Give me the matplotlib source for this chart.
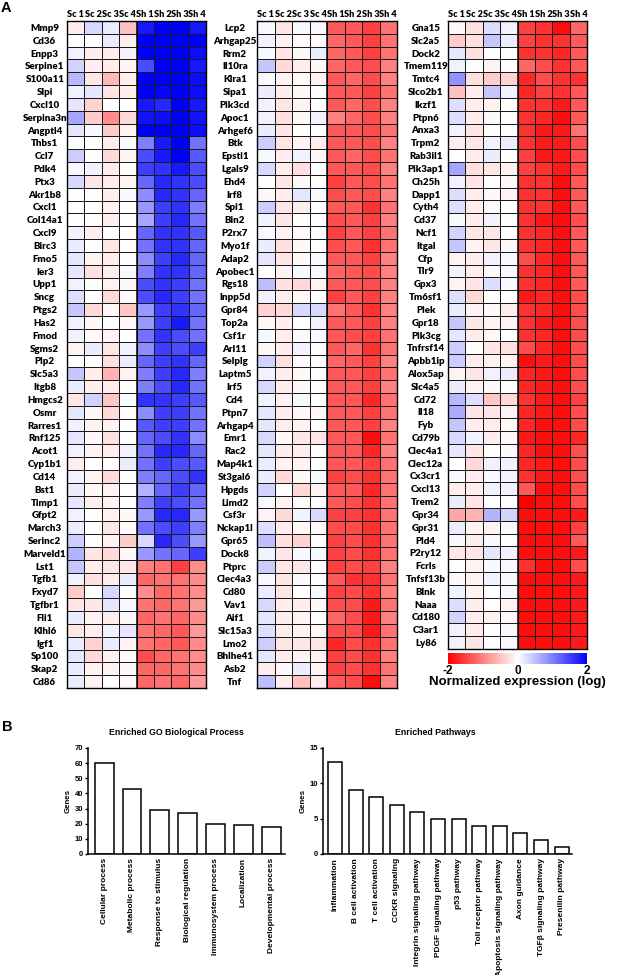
import matplotlib
matplotlib.use("Agg")
import matplotlib.pyplot as plt
import numpy as np
from matplotlib.colors import LinearSegmentedColormap

SAMPLES = ["Sc 1", "Sc 2", "Sc 3", "Sc 4", "Sh 1", "Sh 2", "Sh 3", "Sh 4"]

GENES_A = ["Mmp9", "Cd36", "Enpp3", "Serpine1", "S100a11", "Slpi", "Cxcl10", "Serpina3n",
           "Angptl4", "Thbs1", "Ccl7", "Pdk4", "Ptx3", "Akr1b8", "Cxcl1", "Col14a1", "Cxcl9",
           "Birc3", "Fmo5", "Ier3", "Upp1", "Sncg", "Ptgs2", "Has2", "Fmod", "Sgms2", "Plp2",
           "Slc5a3", "Itgb8", "Hmgcs2", "Osmr", "Rarres1", "Rnf125", "Acot1", "Cyp1b1", "Cd14",
           "Bst1", "Timp1", "Gfpt2", "March3", "Serinc2", "Marveld1", "Lst1", "Tgfb1", "Fxyd7",
           "Tgfbr1", "Fli1", "Klhl6", "Igf1", "Sp100", "Skap2", "Cd86"]
EXPR_A = [
    [-0.15, 0.3, 0.15, -0.5, 1.8, 2.0, 2.0, 1.8],
    [0.0, 0.0, 0.15, -0.15, 2.0, 2.0, 2.0, 2.0],
    [0.1, -0.15, -0.15, 0.1, 2.0, 2.0, 2.0, 1.9],
    [0.35, -0.15, -0.15, -0.1, 1.4, 2.0, 2.0, 1.8],
    [0.55, -0.2, -0.55, -0.15, 2.0, 2.0, 2.0, 1.9],
    [0.1, 0.2, -0.2, -0.15, 2.0, 1.95, 2.0, 1.9],
    [0.2, -0.35, 0.0, 0.0, 1.8, 1.7, 2.0, 1.8],
    [0.7, -0.4, -0.9, -0.3, 1.85, 1.9, 2.0, 1.85],
    [0.2, 0.05, -0.4, -0.1, 2.0, 2.0, 2.0, 1.9],
    [0.0, 0.0, -0.15, 0.05, 1.0, 1.8, 2.0, 1.1],
    [0.4, 0.0, -0.3, -0.1, 1.4, 1.8, 2.0, 1.3],
    [0.05, 0.1, -0.15, 0.0, 1.5, 1.6, 1.8, 1.4],
    [0.3, -0.2, -0.15, -0.1, 1.2, 1.7, 1.6, 1.4],
    [0.0, 0.0, -0.15, 0.05, 0.9, 1.7, 1.6, 1.2],
    [0.0, 0.0, -0.1, 0.0, 0.8, 1.5, 1.6, 1.0],
    [0.0, 0.0, -0.15, 0.0, 0.7, 1.5, 1.7, 1.1],
    [0.1, -0.15, 0.0, 0.0, 1.2, 1.6, 1.6, 1.3],
    [0.15, 0.0, -0.2, 0.0, 1.1, 1.6, 1.6, 1.2],
    [0.2, -0.1, -0.15, 0.0, 0.9, 1.5, 1.7, 1.2],
    [0.2, -0.25, -0.15, 0.05, 1.0, 1.6, 1.6, 1.2],
    [0.1, 0.0, -0.1, -0.05, 1.4, 1.6, 1.5, 1.1],
    [0.25, 0.0, -0.3, -0.05, 1.4, 1.7, 1.5, 1.1],
    [0.45, -0.3, -0.05, -0.45, 0.8, 1.5, 1.6, 1.2],
    [0.1, -0.05, 0.0, -0.05, 0.8, 1.5, 1.8, 1.1],
    [0.1, -0.05, -0.1, 0.0, 1.1, 1.6, 1.4, 1.1],
    [-0.1, 0.15, -0.2, 0.1, 0.9, 1.5, 1.4, 1.5],
    [0.0, 0.0, -0.25, 0.15, 1.2, 1.5, 1.6, 1.2],
    [0.45, -0.15, -0.6, -0.1, 1.0, 1.5, 1.7, 1.0],
    [0.15, -0.15, -0.15, 0.0, 1.0, 1.4, 1.7, 1.1],
    [-0.2, 0.35, -0.45, 0.05, 1.6, 1.6, 1.5, 1.3],
    [0.2, -0.05, -0.3, 0.0, 0.9, 1.5, 1.5, 1.1],
    [0.1, -0.1, -0.1, 0.0, 1.3, 1.5, 1.5, 1.1],
    [0.2, -0.05, -0.25, 0.0, 1.2, 1.4, 1.6, 0.9],
    [0.1, -0.1, -0.15, 0.1, 1.1, 1.7, 1.7, 1.2],
    [-0.15, 0.0, 0.0, 0.15, 1.1, 1.5, 1.4, 1.3],
    [0.1, -0.1, -0.3, 0.0, 1.0, 1.2, 1.4, 1.6],
    [0.15, -0.05, -0.1, 0.0, 0.6, 1.2, 1.5, 1.2],
    [0.2, -0.15, -0.1, 0.0, 1.0, 1.5, 1.4, 1.1],
    [0.1, 0.0, -0.1, -0.05, 0.8, 1.7, 1.7, 0.8],
    [0.15, 0.0, -0.2, -0.05, 1.1, 1.4, 1.5, 1.0],
    [0.4, 0.0, -0.1, -0.4, 0.3, 1.7, 1.4, 0.8],
    [0.6, -0.2, -0.3, -0.05, 0.8, 1.1, 1.2, 1.5],
    [0.45, -0.15, -0.2, -0.2, -1.0, -1.1, -1.5, -0.9],
    [0.1, -0.25, -0.15, 0.15, -1.2, -1.1, -1.1, -0.9],
    [-0.4, 0.0, 0.3, 0.0, -0.9, -1.2, -1.1, -0.9],
    [-0.2, -0.2, 0.2, 0.05, -1.1, -1.2, -1.1, -0.8],
    [0.15, -0.1, -0.15, -0.05, -1.2, -1.1, -1.2, -0.9],
    [-0.2, -0.15, 0.1, 0.2, -1.1, -1.2, -1.3, -0.8],
    [0.15, -0.35, 0.15, -0.1, -1.1, -1.2, -1.3, -0.9],
    [0.2, -0.3, -0.1, -0.05, -1.4, -1.2, -1.1, -0.9],
    [0.15, -0.1, -0.1, -0.05, -1.2, -1.2, -1.1, -0.9],
    [0.15, -0.1, 0.0, -0.05, -1.2, -1.1, -1.2, -0.8],
]

GENES_B = ["Lcp2", "Arhgap25", "Rrm2", "Il10ra", "Klra1", "Sipa1", "Pik3cd", "Apoc1", "Arhgef6",
           "Btk", "Epsti1", "Lgals9", "Ehd4", "Irf8", "Spi1", "Bin2", "P2rx7", "Myo1f", "Adap2",
           "Apobec1", "Rgs18", "Inpp5d", "Gpr84", "Top2a", "Csf1r", "Arl11", "Selplg", "Laptm5",
           "Irf5", "Cd4", "Ptpn7", "Arhgap4", "Emr1", "Rac2", "Map4k1", "St3gal6", "Hpgds",
           "Limd2", "Csf3r", "Nckap1l", "Gpr65", "Dock8", "Ptprc", "Clec4a3", "Cd80", "Vav1",
           "Aif1", "Slc15a3", "Lmo2", "Bhlhe41", "Asb2", "Tnf"]
EXPR_B = [
    [0.05, -0.2, 0.05, 0.05, -1.3, -1.3, -1.5, -1.1],
    [0.1, -0.1, -0.05, -0.05, -1.2, -1.3, -1.5, -1.1],
    [0.05, -0.2, -0.05, 0.15, -1.2, -1.3, -1.5, -1.1],
    [0.45, -0.3, -0.15, -0.05, -1.2, -1.3, -1.4, -1.0],
    [0.05, -0.1, -0.05, -0.1, -1.3, -1.2, -1.4, -1.0],
    [0.15, -0.15, -0.05, 0.0, -1.3, -1.3, -1.5, -1.1],
    [0.1, -0.2, -0.1, 0.0, -1.3, -1.2, -1.4, -1.0],
    [0.1, -0.25, -0.05, 0.1, -1.0, -1.2, -1.4, -1.0],
    [0.15, -0.2, 0.0, 0.0, -1.3, -1.3, -1.4, -1.1],
    [0.4, -0.2, -0.1, -0.15, -1.3, -1.3, -1.4, -1.0],
    [0.05, -0.15, 0.1, -0.05, -1.3, -1.2, -1.4, -1.1],
    [0.3, -0.15, -0.25, 0.0, -1.3, -1.3, -1.4, -1.0],
    [0.0, -0.2, -0.05, 0.0, -1.5, -1.3, -1.4, -1.1],
    [-0.05, -0.15, 0.2, 0.05, -1.4, -1.3, -1.4, -1.0],
    [0.4, -0.2, -0.15, 0.0, -1.3, -1.3, -1.6, -1.1],
    [0.1, -0.2, 0.0, 0.0, -1.4, -1.3, -1.5, -1.0],
    [0.05, -0.1, -0.05, 0.0, -1.5, -1.3, -1.5, -1.1],
    [0.15, -0.25, -0.05, 0.0, -1.4, -1.3, -1.6, -1.1],
    [0.2, -0.2, -0.05, 0.05, -1.3, -1.3, -1.5, -1.0],
    [0.0, -0.1, 0.05, 0.05, -1.2, -1.3, -1.4, -1.0],
    [0.5, -0.25, -0.3, -0.1, -1.3, -1.3, -1.4, -1.0],
    [0.1, -0.15, -0.05, 0.0, -1.5, -1.3, -1.5, -1.0],
    [-0.35, -0.3, 0.3, 0.3, -1.1, -1.3, -1.6, -1.0],
    [-0.05, -0.15, 0.0, 0.1, -1.3, -1.3, -1.5, -1.0],
    [0.05, -0.15, -0.05, 0.05, -1.3, -1.4, -1.5, -1.1],
    [-0.05, -0.15, 0.1, 0.0, -1.3, -1.2, -1.6, -1.1],
    [0.35, -0.25, -0.05, 0.0, -1.2, -1.3, -1.5, -1.0],
    [0.1, -0.15, -0.05, 0.0, -1.3, -1.3, -1.5, -1.1],
    [0.3, -0.15, -0.05, 0.0, -1.3, -1.3, -1.5, -1.0],
    [0.1, -0.1, 0.05, 0.0, -1.3, -1.3, -1.7, -1.1],
    [0.2, -0.15, -0.05, -0.05, -1.3, -1.3, -1.5, -1.1],
    [0.2, -0.15, -0.1, 0.0, -1.3, -1.3, -1.5, -1.0],
    [0.3, -0.05, -0.2, -0.2, -1.3, -1.3, -1.9, -1.1],
    [0.2, -0.15, -0.15, 0.0, -1.3, -1.3, -1.7, -1.0],
    [0.15, -0.1, -0.1, 0.0, -1.3, -1.3, -1.5, -1.1],
    [0.15, -0.3, -0.05, 0.05, -1.5, -1.4, -1.6, -1.1],
    [0.35, 0.0, -0.3, -0.1, -1.3, -1.3, -1.7, -1.1],
    [0.05, -0.1, -0.05, 0.0, -1.3, -1.4, -1.6, -1.1],
    [-0.1, -0.3, 0.1, 0.3, -1.5, -1.5, -1.6, -1.1],
    [0.25, -0.15, -0.05, -0.05, -1.4, -1.4, -1.6, -1.1],
    [0.5, -0.25, -0.35, 0.0, -1.5, -1.4, -1.6, -1.1],
    [0.1, -0.2, 0.05, 0.05, -1.5, -1.4, -1.6, -1.1],
    [0.4, -0.2, -0.2, 0.0, -1.5, -1.4, -1.5, -1.0],
    [0.05, -0.2, 0.05, 0.0, -1.3, -1.6, -1.6, -1.1],
    [0.15, -0.2, 0.0, 0.05, -1.5, -1.4, -1.6, -1.0],
    [0.3, -0.15, -0.15, -0.05, -1.4, -1.4, -1.8, -1.1],
    [0.2, -0.15, -0.1, 0.0, -1.2, -1.4, -1.8, -1.0],
    [0.25, -0.15, -0.1, -0.05, -1.4, -1.4, -1.8, -1.1],
    [0.4, -0.2, -0.2, -0.2, -1.7, -1.4, -1.6, -1.1],
    [0.2, -0.15, -0.1, -0.1, -1.5, -1.4, -1.6, -1.0],
    [-0.15, -0.05, 0.15, -0.1, -1.5, -1.4, -1.6, -1.1],
    [0.5, -0.15, -0.5, -0.15, -1.3, -1.4, -1.9, -1.0],
]

GENES_C = ["Gna15", "Slc2a5", "Dock2", "Tmem119", "Tmtc4", "Slco2b1", "Ikzf1", "Ptpn6", "Anxa3",
           "Trpm2", "Rab3il1", "Pik3ap1", "Ch25h", "Dapp1", "Cyth4", "Cd37", "Ncf1", "Itgal",
           "Cfp", "Tlr9", "Gpx3", "Tm6sf1", "Plek", "Gpr18", "Pik3cg", "Tnfrsf14", "Apbb1ip",
           "Alox5ap", "Slc4a5", "Cd72", "Il18", "Fyb", "Cd79b", "Clec4a1", "Clec12a", "Cx3cr1",
           "Cxcl13", "Trem2", "Gpr34", "Gpr31", "Pld4", "P2ry12", "Fcrls", "Tnfsf13b", "Blnk",
           "Naaa", "Cd180", "C3ar1", "Ly86"]
EXPR_C = [
    [-0.05, -0.25, 0.25, 0.1, -1.5, -1.6, -1.9, -1.2],
    [-0.4, -0.25, 0.45, 0.15, -1.5, -1.6, -1.6, -1.3],
    [0.2, -0.25, 0.0, 0.0, -1.6, -1.6, -1.7, -1.3],
    [0.1, 0.0, -0.1, 0.0, -1.2, -1.4, -1.6, -1.3],
    [0.85, -0.25, -0.4, -0.35, -1.7, -1.4, -1.6, -1.6],
    [-0.5, -0.15, 0.45, 0.1, -1.7, -1.5, -1.6, -1.3],
    [0.25, -0.15, -0.1, 0.0, -1.6, -1.6, -1.8, -1.3],
    [0.25, -0.15, -0.05, 0.0, -1.6, -1.7, -1.9, -1.3],
    [0.1, -0.2, 0.0, 0.0, -1.6, -1.8, -1.8, -1.1],
    [-0.15, -0.2, 0.1, 0.15, -1.6, -1.8, -1.8, -1.4],
    [0.0, -0.15, 0.15, 0.0, -1.5, -1.8, -1.8, -1.4],
    [0.7, -0.25, -0.2, -0.1, -1.5, -1.6, -1.8, -1.4],
    [0.1, -0.2, 0.0, -0.05, -1.6, -1.6, -1.9, -1.3],
    [0.25, -0.15, -0.05, -0.1, -1.6, -1.6, -1.9, -1.3],
    [0.25, -0.15, -0.05, 0.0, -1.6, -1.6, -1.9, -1.3],
    [0.05, -0.15, 0.1, 0.0, -1.6, -1.8, -1.9, -1.4],
    [0.35, -0.2, -0.2, 0.0, -1.6, -1.7, -1.9, -1.3],
    [0.45, -0.1, -0.2, -0.05, -1.6, -1.7, -1.9, -1.3],
    [-0.1, -0.15, 0.1, 0.05, -1.4, -1.7, -1.9, -1.3],
    [0.1, -0.15, -0.05, 0.05, -1.6, -1.7, -1.9, -1.3],
    [-0.1, -0.2, 0.25, 0.05, -1.6, -1.7, -1.9, -1.3],
    [0.25, -0.3, 0.0, 0.0, -1.8, -1.7, -1.9, -1.4],
    [0.15, -0.1, -0.05, -0.15, -1.6, -1.7, -1.9, -1.4],
    [0.45, -0.2, -0.1, -0.1, -1.6, -1.8, -1.9, -1.4],
    [0.2, -0.15, -0.05, 0.0, -1.6, -1.7, -1.9, -1.4],
    [0.4, 0.0, -0.2, -0.25, -1.4, -1.7, -1.9, -1.4],
    [0.4, -0.15, -0.1, -0.1, -1.9, -1.8, -1.9, -1.4],
    [-0.1, -0.2, 0.1, 0.15, -1.7, -1.8, -1.9, -1.4],
    [0.15, -0.1, -0.05, 0.0, -1.7, -1.8, -1.9, -1.4],
    [0.55, 0.25, -0.45, -0.3, -1.6, -1.8, -1.9, -1.5],
    [0.65, -0.2, -0.2, -0.1, -1.7, -1.8, -1.9, -1.4],
    [0.45, -0.15, -0.15, -0.05, -1.7, -1.9, -1.9, -1.4],
    [0.3, 0.1, -0.15, -0.05, -1.8, -1.9, -1.9, -1.7],
    [0.2, -0.2, 0.0, -0.05, -1.7, -1.9, -1.9, -1.4],
    [0.0, -0.3, 0.1, 0.1, -1.7, -1.8, -1.9, -1.4],
    [0.05, -0.15, 0.05, 0.1, -1.6, -1.8, -1.9, -1.4],
    [-0.15, -0.15, 0.1, 0.1, -1.3, -1.9, -1.9, -1.4],
    [0.15, -0.2, 0.0, 0.0, -2.0, -1.9, -1.9, -1.4],
    [-0.7, -0.6, 0.6, 0.35, -1.9, -1.9, -1.9, -1.8],
    [0.15, -0.1, -0.1, 0.05, -1.9, -1.9, -1.9, -1.5],
    [0.05, -0.15, 0.05, 0.0, -1.9, -1.9, -1.9, -1.3],
    [-0.2, -0.2, 0.2, 0.1, -1.9, -1.9, -1.9, -1.8],
    [0.0, -0.1, 0.05, 0.05, -1.6, -1.9, -1.9, -1.4],
    [-0.05, -0.1, 0.1, 0.05, -1.9, -1.9, -1.9, -1.8],
    [0.1, -0.1, 0.0, 0.05, -1.9, -1.9, -1.9, -1.8],
    [0.25, -0.15, 0.0, -0.1, -1.9, -1.9, -1.9, -1.8],
    [0.35, -0.15, -0.1, -0.05, -1.9, -1.9, -1.9, -1.8],
    [0.1, -0.15, 0.0, 0.05, -1.9, -1.9, -1.9, -1.8],
    [0.1, -0.2, 0.0, 0.05, -1.9, -1.9, -1.9, -1.8],
]

GO_TERMS = ["Cellular process", "Metabolic process", "Response to stimulus",
            "Biological regulation", "Immunosystem process", "Localization",
            "Developmental process"]
GO_GENES = [60, 43, 29, 27, 20, 19, 18]

PATHWAYS = ["Inflammation", "B cell activation", "T cell activation", "CCKR signaling",
            "Integrin signaling pathway", "PDGF signaling pathway", "p53 pathway",
            "Toll receptor pathway", "Apoptosis signaling pathway", "Axon guidance",
            "TGF\u03b2 signaling pathway", "Presenilin pathway"]
PATHWAY_GENES = [13, 9, 8, 7, 6, 5, 5, 4, 4, 3, 2, 1]

W, H = 617, 975
LABEL_FONT = ["Lato", "DejaVu Sans"]
ARIAL = ["Liberation Sans", "DejaVu Sans"]
CMAP = LinearSegmentedColormap.from_list("rwb", ["#ff0000", "#ffffff", "#0000ff"])


def px_axes(fig, x0, y0, x1, y1):
    """Add axes given pixel box (top-left origin)."""
    return fig.add_axes([x0 / W, 1 - y1 / H, (x1 - x0) / W, (y1 - y0) / H])


def draw_heatmap(ax, genes, values):
    data = np.array(values)
    mesh = ax.pcolormesh(data, cmap=CMAP, vmin=-2, vmax=2,
                         edgecolors="#1a1a1a", linewidth=0.55)
    ax.axvline(4, color="black", lw=1.1)
    ax.set_xlim(0, data.shape[1])
    ax.set_ylim(len(genes), 0)
    ax.xaxis.tick_top()
    ax.set_xticks(np.arange(len(SAMPLES)) + 0.5)
    ax.set_xticklabels(SAMPLES, fontsize=6.5, fontweight="heavy", family=LABEL_FONT)
    ax.set_yticks(np.arange(len(genes)) + 0.5)
    ax.set_yticklabels(genes, fontsize=7.0, fontweight="heavy", family=LABEL_FONT)
    for lbl in ax.get_yticklabels():
        lbl.set_horizontalalignment("center")
    ax.tick_params(axis="x", length=0, pad=1.5)
    ax.tick_params(axis="y", length=0, pad=16)
    for sp in ax.spines.values():
        sp.set_linewidth(1.0)
    return mesh


def draw_bars(ax, names, counts, ymax, step, title):
    x = np.arange(len(names))
    ax.bar(x, counts, width=0.68, color="white", edgecolor="black", linewidth=1.1)
    ax.set_xlim(-0.58, len(names) - 0.5)
    ax.set_ylim(0, ymax)
    ax.set_yticks(np.arange(0, ymax + 1, step))
    ax.set_xticks(x)
    ax.set_xticklabels(names, rotation=90, fontsize=6.0, fontweight="bold", family=ARIAL)
    for lbl in ax.get_yticklabels():
        lbl.set_fontsize(5.5)
        lbl.set_fontweight("bold")
        lbl.set_family(ARIAL)
    ax.tick_params(axis="x", length=0, pad=3)
    ax.tick_params(axis="y", length=2.5, width=1.0, pad=1)
    ax.spines["top"].set_visible(False)
    ax.spines["right"].set_visible(False)
    ax.spines["left"].set_linewidth(1.1)
    ax.spines["bottom"].set_linewidth(1.1)
    ax.set_ylabel("Genes", fontsize=5.7, fontweight="bold", family=ARIAL, labelpad=2)
    ax.text(0.45, 1.15, title, transform=ax.transAxes, ha="center", va="center",
            fontsize=6.3, fontweight="bold", family=ARIAL)


def main():
    fig = plt.figure(figsize=(W / 100, H / 100), dpi=100)

    ax1 = px_axes(fig, 67, 21, 206, 688)
    ax2 = px_axes(fig, 257, 21, 397, 688)
    ax3 = px_axes(fig, 448, 21, 587, 649)
    draw_heatmap(ax1, GENES_A, EXPR_A)
    draw_heatmap(ax2, GENES_B, EXPR_B)
    mesh = draw_heatmap(ax3, GENES_C, EXPR_C)

    cax = px_axes(fig, 448, 653, 587, 664)
    cb = fig.colorbar(mesh, cax=cax, orientation="horizontal", ticks=[-2, 0, 2])
    cb.outline.set_visible(False)
    cax.tick_params(length=0, pad=0.5)
    cax.set_xticklabels(["-2", "0", "2"], fontsize=8.5, fontweight="bold", family=ARIAL)
    cax.set_xlabel("Normalized expression (log)", fontsize=9.5, fontweight="bold",
                   family=ARIAL, labelpad=-0.5)

    fig.text(1 / W, 1 - 8 / H, "A", fontsize=10.5, fontweight="bold", family=ARIAL, va="center")
    fig.text(2 / W, 1 - 727 / H, "B", fontsize=10.5, fontweight="bold", family=ARIAL, va="center")

    axb1 = px_axes(fig, 88, 748, 285, 854)
    draw_bars(axb1, GO_TERMS, GO_GENES, 70, 10, "Enriched GO Biological Process")
    axb2 = px_axes(fig, 323, 748, 572, 854)
    draw_bars(axb2, PATHWAYS, PATHWAY_GENES, 15, 5, "Enriched Pathways")

    fig.savefig("out.png", dpi=100)
    plt.close(fig)


if __name__ == "__main__":
    main()
